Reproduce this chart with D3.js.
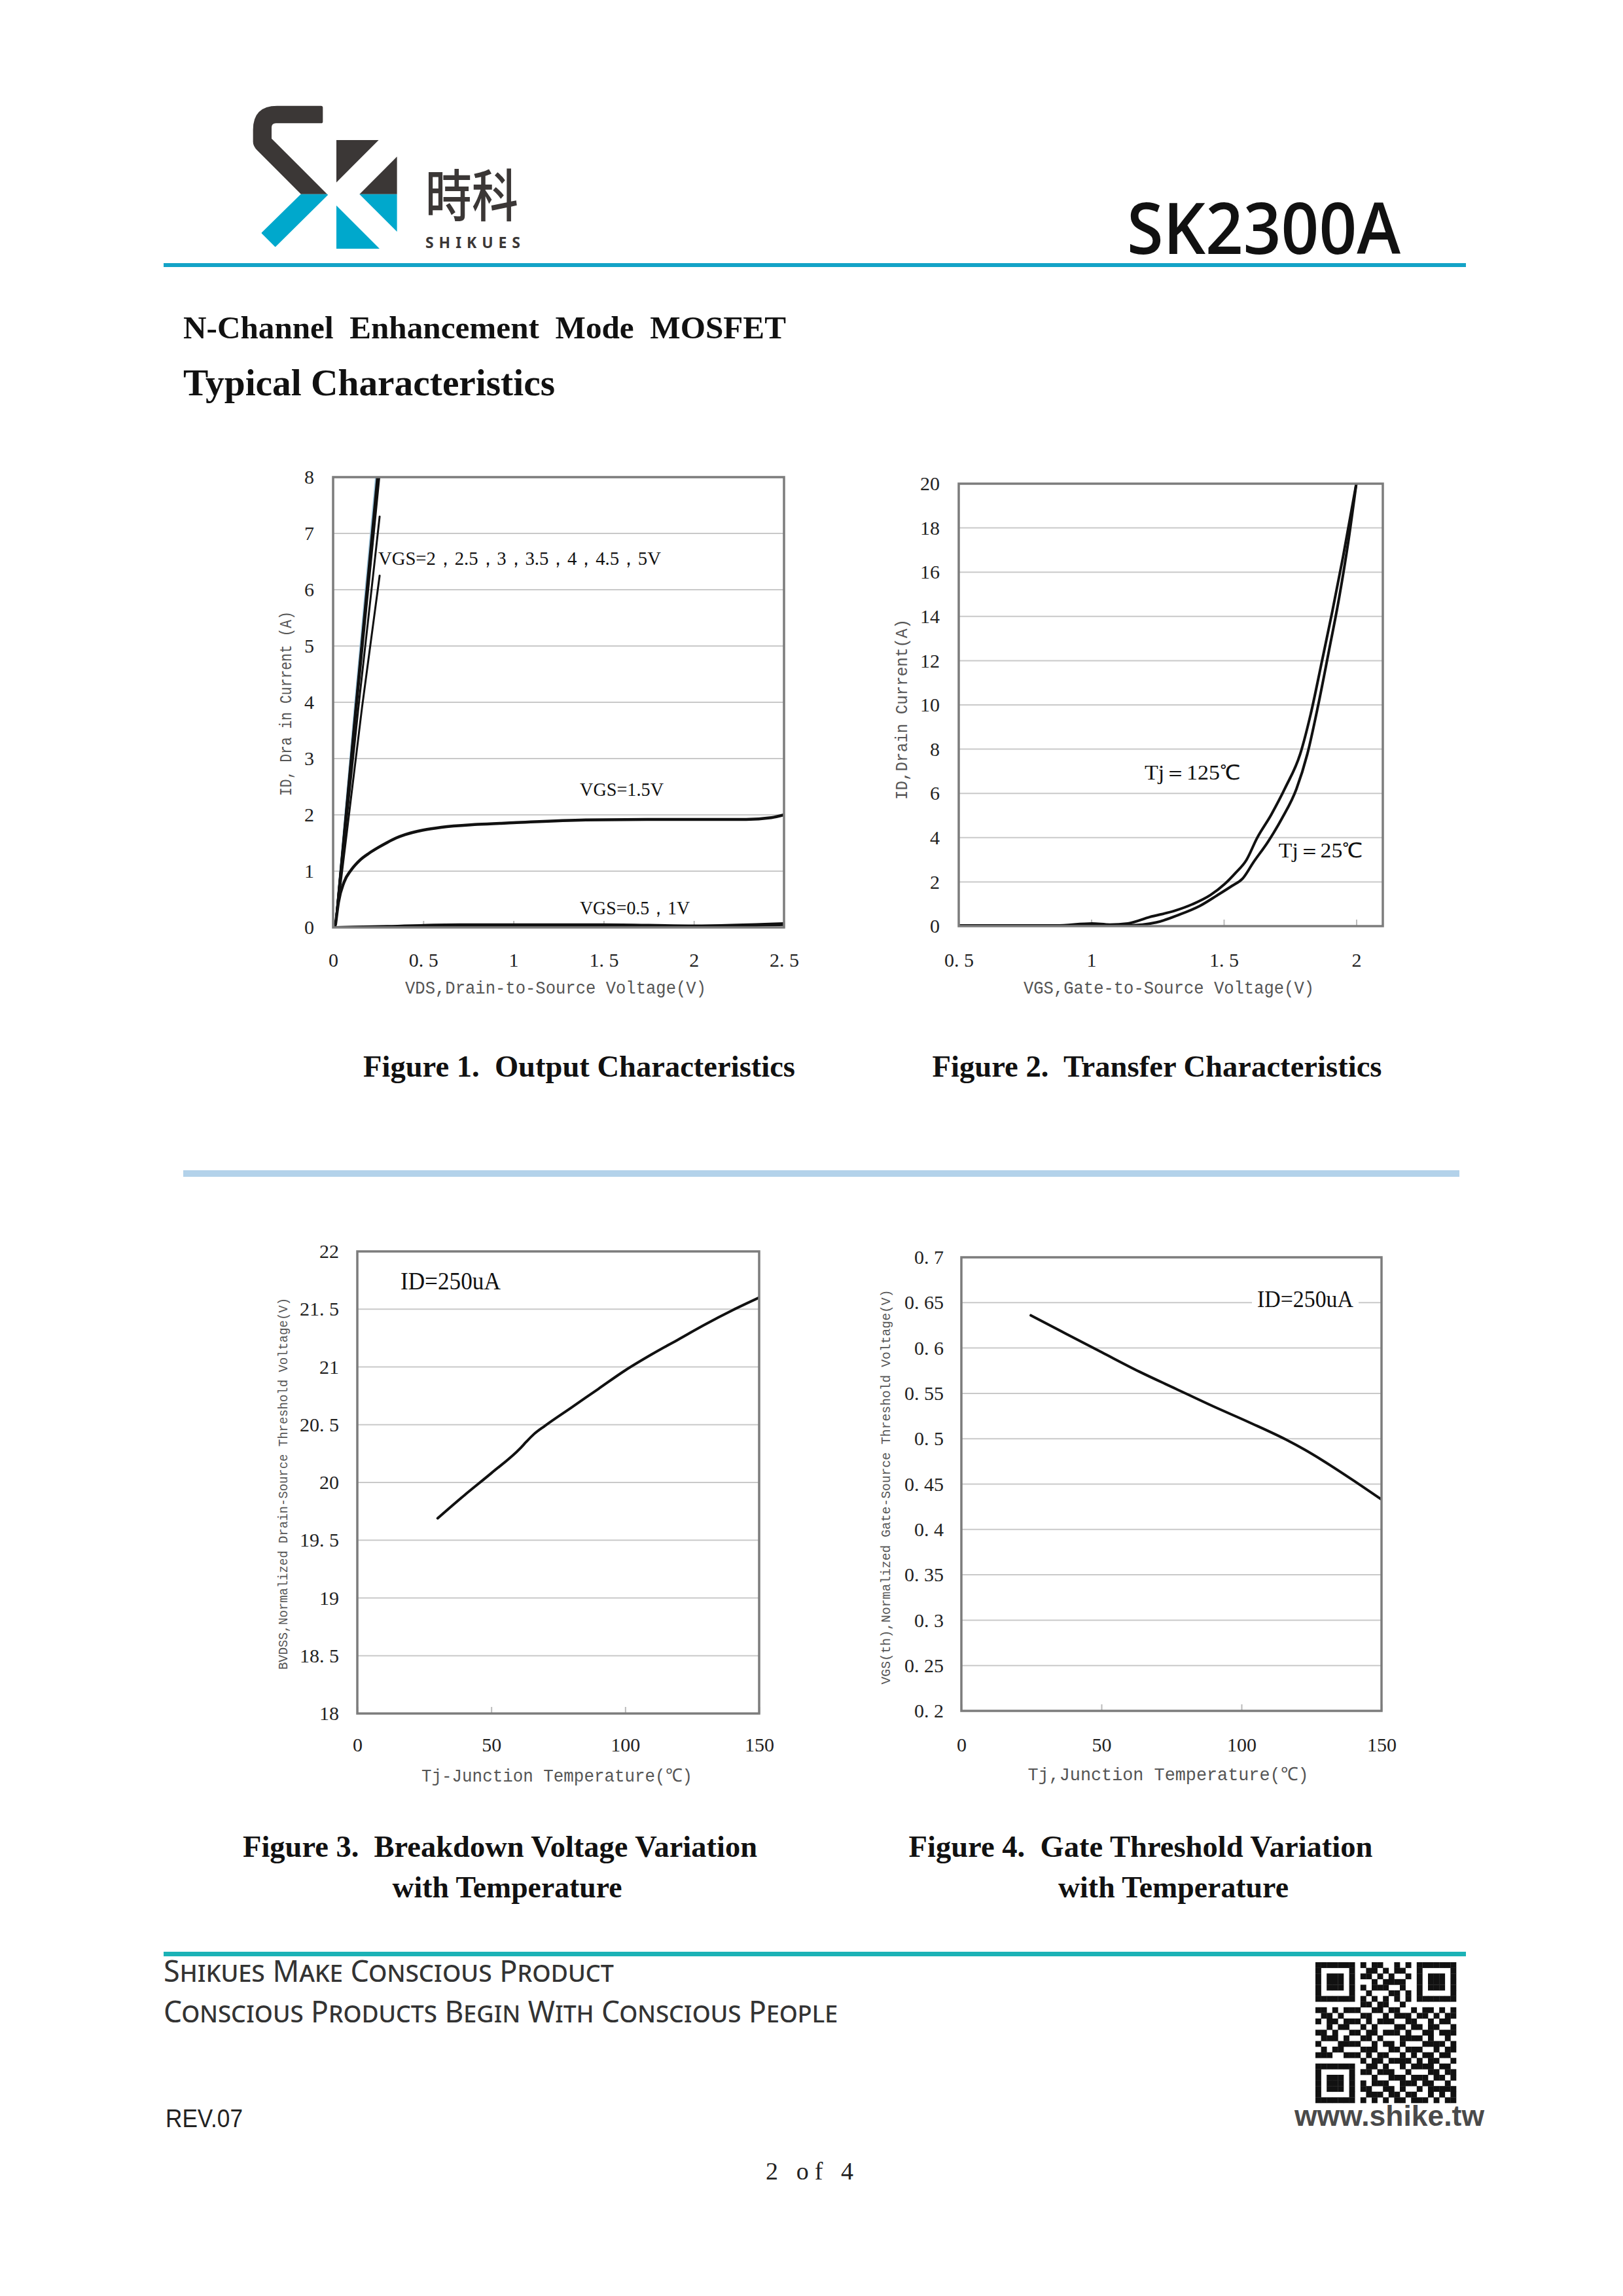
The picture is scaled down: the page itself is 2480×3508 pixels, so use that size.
<!DOCTYPE html>
<html><head><meta charset="utf-8">
<script src="https://cdn.jsdelivr.net/npm/d3@7"></script>
<style>html,body{margin:0;padding:0;background:#fff;} svg{display:block;}</style>
</head><body>
<svg id="page" width="2480" height="3508"></svg>
<script>
// ---------------- DATA ----------------
// Figure 1 - Output Characteristics
const fig1XTicks = [0, 0.5, 1, 1.5, 2, 2.5];
const fig1XTickLabels = ["0", "0. 5", "1", "1. 5", "2", "2. 5"];
const fig1YTicks = [0, 1, 2, 3, 4, 5, 6, 7, 8];
const fig1YTickLabels = ["0", "1", "2", "3", "4", "5", "6", "7", "8"];
const fig1HighVgsLines = [
  [[0.012, 0], [0.120, 3.9], [0.238, 8.0]],
  [[0.012, 0], [0.124, 3.9], [0.244, 8.0]],
  [[0.012, 0], [0.126, 3.9], [0.248, 8.0]],
  [[0.012, 0], [0.128, 3.9], [0.252, 8.0]],
  [[0.012, 0], [0.130, 3.9], [0.256, 8.0]],
  [[0.012, 0], [0.140, 3.9], [0.258, 7.3]],
  [[0.012, 0], [0.160, 3.9], [0.258, 6.25]]
];
const fig1HighVgsColors = ["#9fc6de", "#111", "#111", "#111", "#111", "#111", "#111"];
const fig1Vgs15 = [[0.014, 0.06], [0.03, 0.45], [0.06, 0.8], [0.1, 1.02], [0.15, 1.2],
  [0.2, 1.32], [0.25, 1.42], [0.3, 1.51], [0.35, 1.59], [0.4, 1.65], [0.5, 1.73], [0.6, 1.78],
  [0.8, 1.83], [1.0, 1.86], [1.4, 1.91], [1.8, 1.92], [2.29, 1.92], [2.43, 1.95], [2.5, 2.0]];
const fig1VgsLow = [
  [[0.012, 0], [0.3, 0.02], [0.7, 0.05], [1.5, 0.05], [2.0, 0.03], [2.5, 0.07]],
  [[0.012, 0], [0.5, 0.01], [1.5, 0.02], [2.0, 0.02], [2.5, 0.05]]
];
const fig1Labels = [
  {text: "VGS=2，2.5，3，3.5，4，4.5，5V", x: 0.25, y: 6.44, len: 432},
  {text: "VGS=1.5V", x: 1.368, y: 2.34, len: 128},
  {text: "VGS=0.5，1V", x: 1.368, y: 0.233, len: 168}
];

// Figure 2 - Transfer Characteristics
const fig2XTicks = [0.5, 1, 1.5, 2];
const fig2XTickLabels = ["0. 5", "1", "1. 5", "2"];
const fig2YTicks = [0, 2, 4, 6, 8, 10, 12, 14, 16, 18, 20];
const fig2YTickLabels = ["0", "2", "4", "6", "8", "10", "12", "14", "16", "18", "20"];
const fig2Tj125 = [[0.5, 0.03], [0.868, 0.03], [1.003, 0.12], [1.07, 0.07], [1.138, 0.12],
  [1.22, 0.41], [1.314, 0.69], [1.382, 0.99], [1.449, 1.40], [1.503, 1.90], [1.544, 2.40],
  [1.585, 2.98], [1.625, 3.97], [1.679, 5.04], [1.733, 6.28], [1.788, 7.77], [1.828, 9.59],
  [1.869, 11.9], [1.909, 14.2], [1.95, 16.7], [2.0, 20]];
const fig2Tj25 = [[0.5, 0.0], [1.138, 0.03], [1.246, 0.17], [1.328, 0.5], [1.409, 0.91],
  [1.476, 1.40], [1.531, 1.82], [1.571, 2.15], [1.612, 2.89], [1.666, 3.80], [1.72, 4.88],
  [1.774, 6.2], [1.815, 7.77], [1.855, 9.92], [1.896, 12.4], [1.936, 14.9], [1.97, 17.4], [2.0, 20]];
const fig2Labels = [
  {text: "Tj＝125℃", x: 1.201, y: 6.63, len: 147},
  {text: "Tj＝25℃", x: 1.707, y: 3.1, len: 129}
];

// Figure 3 - Breakdown Voltage vs Temperature
const fig3XTicks = [0, 50, 100, 150];
const fig3XTickLabels = ["0", "50", "100", "150"];
const fig3YTicks = [18, 18.5, 19, 19.5, 20, 20.5, 21, 21.5, 22];
const fig3YTickLabels = ["18", "18. 5", "19", "19. 5", "20", "20. 5", "21", "21. 5", "22"];
const fig3Bvdss = [[30, 19.69], [40, 19.89], [50, 20.08], [61, 20.30], [63, 20.35], [66, 20.42],
  [70, 20.49], [80, 20.65], [90, 20.81], [100, 20.97], [110, 21.11], [120, 21.24],
  [130, 21.37], [140, 21.49], [150, 21.60]];
const fig3Label = {text: "ID=250uA", x: 16.1, y: 21.67, len: 153};

// Figure 4 - Gate Threshold vs Temperature
const fig4XTicks = [0, 50, 100, 150];
const fig4XTickLabels = ["0", "50", "100", "150"];
const fig4YTicks = [0.2, 0.25, 0.3, 0.35, 0.4, 0.45, 0.5, 0.55, 0.6, 0.65, 0.7];
const fig4YTickLabels = ["0. 2", "0. 25", "0. 3", "0. 35", "0. 4", "0. 45", "0. 5", "0. 55", "0. 6", "0. 65", "0. 7"];
const fig4Vth = [[24.8, 0.636], [37.2, 0.616], [50.3, 0.595], [63.5, 0.574], [76.6, 0.555],
  [89.7, 0.536], [102.8, 0.518], [115.9, 0.499], [122.5, 0.488], [129.0, 0.476], [139.5, 0.455], [150, 0.433]];
const fig4Label = {text: "ID=250uA", x: 105.6, y: 0.645, len: 147};

// QR pattern (decorative)
const qrRows = [
  "1111111010110010101111111",
  "1000001001101011001000001",
  "1011101011010100101011101",
  "1011101000101111001011101",
  "1011101010111001001011101",
  "1000001001000110101000001",
  "1111111010101010101111111",
  "0000000011011001000000000",
  "1101011100110110010110101",
  "0110100011001011101101011",
  "1011011101011100110010110",
  "0010110010100011011011001",
  "1101001101101110100110111",
  "0111010011010001111010010",
  "1000111100101101000111101",
  "0101100011100110111001011",
  "1110011101011001010110110",
  "0000000010110111101011001",
  "1111111001101001011110110",
  "1000001011011100100011011",
  "1011101000100111011101101",
  "1011101010111001110110010",
  "1011101011001101001011111",
  "1000001001110110110010101",
  "1111111010101011011101011"
];

// ---------------- DRAWING ----------------
const svg = d3.select("#page");
const SERIF = "'Liberation Serif','Times New Roman',serif";
const MONO = "'Liberation Mono','DejaVu Sans Mono',monospace";
const SANS = "'Liberation Sans',Arial,sans-serif";

// Logo
const logo = svg.append("g").attr("transform", "translate(360,140) scale(0.3333)");
const dark = "#3b3736", blue = "#00a8cc";
logo.append("path").attr("fill", dark)
  .attr("d", "M190,65 L392,65 Q400,65 400,73 L400,137 Q400,145 392,145 L185,145 Q165,145 165,165 L165,215 L420,470 L300,470 L100,270 Q80,250 80,230 L80,175 Q80,65 190,65 Z");
logo.append("path").attr("fill", blue).attr("stroke", blue).attr("stroke-width", 6).attr("stroke-linejoin", "round")
  .attr("d", "M300,473 L420,473 L182,708 L122,648 Z");
logo.append("path").attr("fill", dark).attr("d", "M462,222 L656,222 L462,416 Z");
logo.append("path").attr("fill", dark).attr("d", "M740,298 L740,470 L568,470 Z");
logo.append("path").attr("fill", blue).attr("d", "M568,470 L740,470 L740,642 Z");
logo.append("path").attr("fill", blue).attr("d", "M462,522 L462,720 L660,720 Z");
svg.append("text").attr("x", 650).attr("y", 331).text("時科")
  .attr("font-family", "'Noto Sans CJK TC','Noto Sans CJK SC',sans-serif").attr("font-weight", 500)
  .attr("font-size", 86).attr("fill", dark).attr("textLength", 142).attr("lengthAdjust", "spacingAndGlyphs");
svg.append("text").attr("x", 650).attr("y", 379).text("SHIKUES")
  .attr("font-family", "'Noto Sans',sans-serif").attr("font-weight", 700)
  .attr("font-size", 23).attr("fill", dark).attr("textLength", 145).attr("lengthAdjust", "spacing");

// Part number
svg.append("text").attr("x", 1722).attr("y", 388).text("SK2300A")
  .attr("font-family", "'Open Sans','Noto Sans',sans-serif").attr("font-weight", 600)
  .attr("font-size", 108).attr("fill", "#111").attr("textLength", 418).attr("lengthAdjust", "spacingAndGlyphs");

// Header line
svg.append("rect").attr("x", 250).attr("y", 402).attr("width", 1990).attr("height", 6).attr("fill", "#13a3c7");

// Headings
svg.append("text").attr("x", 280).attr("y", 517).text("N-Channel  Enhancement  Mode  MOSFET")
  .style("white-space", "pre").attr("font-family", SERIF).attr("font-weight", 700)
  .attr("font-size", 48).attr("fill", "#111").attr("textLength", 921).attr("lengthAdjust", "spacingAndGlyphs");
svg.append("text").attr("x", 280).attr("y", 604).text("Typical Characteristics")
  .attr("font-family", SERIF).attr("font-weight", 700)
  .attr("font-size", 56).attr("fill", "#111").attr("textLength", 568).attr("lengthAdjust", "spacingAndGlyphs");

// Generic chart
function drawChart(cfg) {
  const g = svg.append("g");
  const x = d3.scaleLinear().domain(cfg.xDomain).range([cfg.x0, cfg.x1]);
  const y = d3.scaleLinear().domain(cfg.yDomain).range([cfg.y1, cfg.y0]);
  g.selectAll("line.grid").data(cfg.yTicks.slice(1, -1)).join("line")
    .attr("x1", cfg.x0).attr("x2", cfg.x1).attr("y1", d => y(d)).attr("y2", d => y(d))
    .attr("stroke", "#c9c9c9").attr("stroke-width", 2);
  const xa = g.append("g").attr("transform", `translate(0,${cfg.y1})`)
    .call(d3.axisBottom(x).tickValues(cfg.xTicks).tickFormat((d, i) => cfg.xTickLabels[i])
      .tickSizeInner(-10).tickSizeOuter(0).tickPadding(cfg.xPad));
  xa.select(".domain").remove();
  xa.selectAll(".tick line").attr("stroke", "#bbb").attr("stroke-width", 2);
  xa.selectAll(".tick text").attr("font-family", SERIF).attr("font-size", 30).attr("fill", "#222").style("white-space", "pre");
  const ya = g.append("g").attr("transform", `translate(${cfg.x0},0)`)
    .call(d3.axisLeft(y).tickValues(cfg.yTicks).tickFormat((d, i) => cfg.yTickLabels[i])
      .tickSize(0).tickPadding(cfg.yPad));
  ya.select(".domain").remove();
  ya.selectAll(".tick text").attr("font-family", SERIF).attr("font-size", 30).attr("fill", "#222").style("white-space", "pre");
  g.append("text").attr("x", cfg.xTitle.cx).attr("y", cfg.xTitle.y).text(cfg.xTitle.text)
    .attr("text-anchor", "middle").attr("font-family", MONO).attr("font-size", cfg.xTitle.size)
    .attr("fill", "#555").attr("textLength", cfg.xTitle.len).attr("lengthAdjust", "spacingAndGlyphs");
  g.append("text").attr("transform", `translate(${cfg.yTitle.cx},${cfg.yTitle.cy}) rotate(-90)`)
    .attr("dy", "0.35em").text(cfg.yTitle.text)
    .attr("text-anchor", "middle").attr("font-family", MONO).attr("font-size", cfg.yTitle.size)
    .attr("fill", "#555").attr("textLength", cfg.yTitle.len).attr("lengthAdjust", "spacingAndGlyphs");
  (cfg.labels || []).forEach(l => {
    if (l.bg) {
      g.append("rect").attr("x", x(l.x) - 8).attr("y", y(l.y) - l.size * 0.85)
        .attr("width", l.len + 16).attr("height", l.size * 1.1).attr("fill", "#fff");
    }
    g.append("text").attr("x", x(l.x)).attr("y", y(l.y)).text(l.text)
      .attr("font-family", SERIF).attr("font-size", l.size).attr("fill", "#111")
      .attr("textLength", l.len).attr("lengthAdjust", "spacingAndGlyphs");
  });
  const line = d3.line().x(d => x(d[0])).y(d => y(d[1])).curve(d3.curveMonotoneX);
  const clip = "clip" + Math.round(cfg.x0);
  g.append("clipPath").attr("id", clip).append("rect")
    .attr("x", cfg.x0).attr("y", cfg.y0).attr("width", cfg.x1 - cfg.x0).attr("height", cfg.y1 - cfg.y0);
  const sg = g.append("g").attr("clip-path", `url(#${clip})`);
  cfg.series.forEach(s => {
    sg.append("path").attr("d", line(s.data)).attr("fill", "none")
      .attr("stroke", s.color || "#111").attr("stroke-width", s.width || 4)
      .attr("stroke-linejoin", "round").attr("stroke-linecap", "round");
  });
  g.append("rect").attr("x", cfg.x0).attr("y", cfg.y0).attr("width", cfg.x1 - cfg.x0).attr("height", cfg.y1 - cfg.y0)
    .attr("fill", "none").attr("stroke", "#7c7c7c").attr("stroke-width", 3.5);
}

drawChart({
  x0: 509, x1: 1198, y0: 729, y1: 1417, xDomain: [0, 2.5], yDomain: [0, 8],
  xTicks: fig1XTicks, xTickLabels: fig1XTickLabels, yTicks: fig1YTicks, yTickLabels: fig1YTickLabels,
  xPad: 39, yPad: 29,
  xTitle: {text: "VDS,Drain-to-Source Voltage(V)", cx: 849, y: 1518, size: 28, len: 460},
  yTitle: {text: "ID, Dra in Current (A)", cx: 436, cy: 1075, size: 26, len: 282},
  labels: fig1Labels.map(l => Object.assign({size: 30}, l)),
  series: [
    ...fig1HighVgsLines.map((d, i) => ({data: d, color: fig1HighVgsColors[i], width: 3})),
    {data: fig1Vgs15, width: 4.5},
    ...fig1VgsLow.map(d => ({data: d, width: 4}))
  ]
});

drawChart({
  x0: 1465, x1: 2113, y0: 739, y1: 1415, xDomain: [0.5, 2.1], yDomain: [0, 20],
  xTicks: fig2XTicks, xTickLabels: fig2XTickLabels, yTicks: fig2YTicks, yTickLabels: fig2YTickLabels,
  xPad: 41, yPad: 29,
  xTitle: {text: "VGS,Gate-to-Source Voltage(V)", cx: 1786, y: 1518, size: 28, len: 444},
  yTitle: {text: "ID,Drain Current(A)", cx: 1377, cy: 1084, size: 26, len: 276},
  labels: fig2Labels.map(l => Object.assign({size: 31}, l)),
  series: [{data: fig2Tj125, width: 4}, {data: fig2Tj25, width: 4}]
});

drawChart({
  x0: 546, x1: 1160, y0: 1912, y1: 2618, xDomain: [0, 150], yDomain: [18, 22],
  xTicks: fig3XTicks, xTickLabels: fig3XTickLabels, yTicks: fig3YTicks, yTickLabels: fig3YTickLabels,
  xPad: 37, yPad: 28,
  xTitle: {text: "Tj-Junction Temperature(℃)", cx: 851, y: 2722, size: 28, len: 414},
  yTitle: {text: "BVDSS,Normalized Drain-Source Threshold Voltage(V)", cx: 432, cy: 2267, size: 21, len: 568},
  labels: [Object.assign({size: 37}, fig3Label)],
  series: [{data: fig3Bvdss, width: 4}]
});

drawChart({
  x0: 1469, x1: 2111, y0: 1921, y1: 2614, xDomain: [0, 150], yDomain: [0.2, 0.7],
  xTicks: fig4XTicks, xTickLabels: fig4XTickLabels, yTicks: fig4YTicks, yTickLabels: fig4YTickLabels,
  xPad: 41, yPad: 27,
  xTitle: {text: "Tj,Junction Temperature(℃)", cx: 1785, y: 2720, size: 28, len: 429},
  yTitle: {text: "VGS(th),Normalized Gate-Source Threshold Voltage(V)", cx: 1353, cy: 2272, size: 21, len: 603},
  labels: [Object.assign({size: 36, bg: true}, fig4Label)],
  series: [{data: fig4Vth, width: 4}]
});

// Captions
function caption(text, cx, y, len) {
  svg.append("text").attr("x", cx).attr("y", y).text(text).style("white-space", "pre")
    .attr("text-anchor", "middle").attr("font-family", SERIF).attr("font-weight", 700)
    .attr("font-size", 46).attr("fill", "#111").attr("textLength", len).attr("lengthAdjust", "spacingAndGlyphs");
}
caption("Figure 1.  Output Characteristics", 885, 1645, 660);
caption("Figure 2.  Transfer Characteristics", 1768, 1645, 687);
caption("Figure 3.  Breakdown Voltage Variation", 764, 2837, 786);
caption("with Temperature", 775, 2899, 351);
caption("Figure 4.  Gate Threshold Variation", 1743, 2837, 709);
caption("with Temperature", 1793, 2899, 352);

// Separator
svg.append("rect").attr("x", 280).attr("y", 1788).attr("width", 1950).attr("height", 10).attr("fill", "#b3d2ea");

// Footer
svg.append("rect").attr("x", 250).attr("y", 2982).attr("width", 1990).attr("height", 7).attr("fill", "#1bb2b6");
svg.append("text").attr("x", 250).attr("y", 3028).text("Shikues Make Conscious Product")
  .attr("font-family", "'Noto Sans',sans-serif").style("font-variant", "small-caps")
  .attr("font-size", 46).attr("fill", "#333").attr("textLength", 688).attr("lengthAdjust", "spacingAndGlyphs");
svg.append("text").attr("x", 250).attr("y", 3090).text("Conscious Products Begin With Conscious People")
  .attr("font-family", "'Noto Sans',sans-serif").style("font-variant", "small-caps")
  .attr("font-size", 46).attr("fill", "#333").attr("textLength", 1030).attr("lengthAdjust", "spacingAndGlyphs");
svg.append("text").attr("x", 253).attr("y", 3250).text("REV.07")
  .attr("font-family", SANS).attr("font-size", 38).attr("fill", "#222")
  .attr("textLength", 118).attr("lengthAdjust", "spacingAndGlyphs");
svg.append("text").attr("x", 1237).attr("y", 3330).text("2 of 4").attr("text-anchor", "middle")
  .attr("font-family", SERIF).attr("font-size", 38).attr("fill", "#222")
  .attr("textLength", 134).attr("lengthAdjust", "spacing");
svg.append("text").attr("x", 1978).attr("y", 3248).text("www.shike.tw")
  .attr("font-family", SANS).attr("font-weight", 700).attr("font-size", 44).attr("fill", "#4a4a4a")
  .attr("textLength", 290).attr("lengthAdjust", "spacingAndGlyphs");

// QR code
const qrG = svg.append("g").attr("transform", "translate(2010,2998)");
const mod = 8.6;
qrRows.forEach((row, r) => {
  row.split("").forEach((c, k) => {
    if (c === "1") qrG.append("rect").attr("x", k * mod).attr("y", r * mod)
      .attr("width", mod + 0.3).attr("height", mod + 0.3).attr("fill", "#111");
  });
});
</script>
</body></html>
